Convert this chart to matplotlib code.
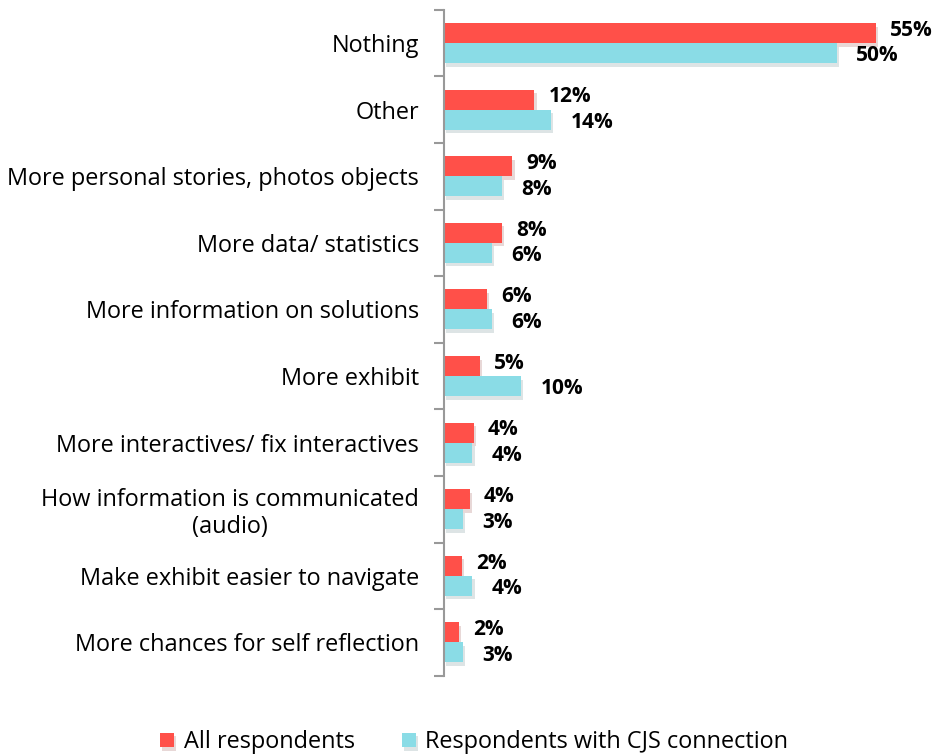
import matplotlib
matplotlib.use("Agg")
import matplotlib.pyplot as plt
import matplotlib.patheffects as pe
import numpy as np

categories = ["Nothing", "Other", "More personal stories, photos objects",
              "More data/ statistics", "More information on solutions",
              "More exhibit", "More interactives/ fix interactives",
              "How information is communicated\n(audio)",
              "Make exhibit easier to navigate", "More chances for self reflection"]
all_resp = [55, 11.5, 8.7, 7.4, 5.5, 4.6, 3.8, 3.3, 2.3, 1.9]
cjs_resp = [50, 13.6, 7.4, 6.1, 6.1, 9.8, 3.6, 2.4, 3.6, 2.4]
all_labels = ["55%", "12%", "9%", "8%", "6%", "5%", "4%", "4%", "2%", "2%"]
cjs_labels = ["50%", "14%", "8%", "6%", "6%", "10%", "4%", "3%", "4%", "3%"]
series_names = ["All respondents", "Respondents with CJS connection"]

red = "#FF5049"
cyan = "#8ADCE6"

plt.rcParams['font.family'] = ['Open Sans', 'DejaVu Sans']

fig = plt.figure(figsize=(9.39, 7.55), dpi=100)
ax = fig.add_axes([0.473, 0.105, 0.502, 0.882])

n = len(categories)
y = np.arange(n)
h = 0.30
shadow = [pe.SimplePatchShadow(offset=(1.5, -2.5), alpha=0.18, rho=0.5), pe.Normal()]
b1 = ax.barh(y - h / 2, all_resp, height=h, color=red, label=series_names[0])
b2 = ax.barh(y + h / 2, cjs_resp, height=h, color=cyan, label=series_names[1])
for b in list(b1) + list(b2):
    b.set_path_effects(shadow)

for i in range(n):
    ax.annotate(all_labels[i], (all_resp[i], y[i] - h / 2), xytext=(10, 2),
                textcoords="offset points", va="center", ha="left",
                fontsize=15, fontweight="bold")
    ax.annotate(cjs_labels[i], (cjs_resp[i], y[i] + h / 2), xytext=(14, -2),
                textcoords="offset points", va="center", ha="left",
                fontsize=15, fontweight="bold")

ax.set_ylim(n - 0.5, -0.5)
ax.set_xlim(0, 60)
ax.set_yticks(y)
ax.set_yticklabels(categories, fontsize=16.9, linespacing=1.15)
ax.set_yticks(np.arange(-0.5, n, 1), minor=True)
ax.tick_params(axis='y', which='major', length=0, pad=18)
ax.tick_params(axis='y', which='minor', length=7, width=1.5, color="#999999", direction="out")
ax.set_xticks([])
for s in ["top", "right", "bottom"]:
    ax.spines[s].set_visible(False)
ax.spines["left"].set_color("#999999")
ax.spines["left"].set_linewidth(1.5)

for t in ax.get_yticklabels():
    t.set_multialignment("center")

fig.legend(handles=[b1, b2], labels=series_names, loc="lower center",
           bbox_to_anchor=(0.505, -0.027), ncol=2, frameon=False, fontsize=16.9,
           handlelength=0.6, handleheight=0.6, handletextpad=0.4, columnspacing=2.0)

fig.savefig("out.png", dpi=100)
